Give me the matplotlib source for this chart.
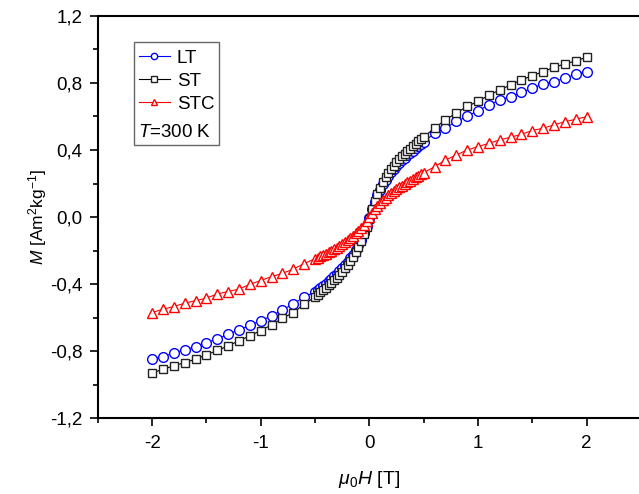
import numpy as np
import matplotlib
matplotlib.use("Agg")
import matplotlib.pyplot as plt
from matplotlib.patches import Rectangle

plt.rcParams['font.family'] = ['Liberation Sans', 'DejaVu Sans']
plt.rcParams['mathtext.fontset'] = 'custom'
plt.rcParams['mathtext.rm'] = 'Liberation Sans'
plt.rcParams['mathtext.it'] = 'Liberation Sans:italic'

# field grid: coarse outside +-0.5 T, dense inside
h_neg = [-2.0, -1.9, -1.8, -1.7, -1.6, -1.5, -1.4, -1.3, -1.2, -1.1, -1.0, -0.9, -0.8, -0.7, -0.6]
h_mid = [-0.5, -0.475, -0.45, -0.425, -0.4, -0.375, -0.35, -0.325, -0.3, -0.275,
         -0.25, -0.225, -0.2, -0.175, -0.15, -0.125, -0.1, -0.075, -0.05, -0.025,
         0.0, 0.025, 0.05, 0.075, 0.1, 0.125, 0.15, 0.175, 0.2, 0.225,
         0.25, 0.275, 0.3, 0.325, 0.35, 0.375, 0.4, 0.425, 0.45, 0.475, 0.5]
h_pos = [0.6, 0.7, 0.8, 0.9, 1.0, 1.1, 1.2, 1.3, 1.4, 1.5, 1.6, 1.7, 1.8, 1.9, 2.0]

lt_neg = [-0.847, -0.831, -0.811, -0.791, -0.772, -0.748, -0.727, -0.698, -0.672, -0.645,
          -0.617, -0.589, -0.553, -0.517, -0.477]
lt_mid = [-0.445, -0.433, -0.421, -0.409, -0.396, -0.382, -0.368, -0.353, -0.338, -0.322,
          -0.305, -0.287, -0.267, -0.246, -0.223, -0.197, -0.167, -0.134, -0.096, -0.054,
          -0.008, 0.046, 0.09, 0.13, 0.164, 0.195, 0.222, 0.246, 0.267, 0.287,
          0.305, 0.323, 0.339, 0.354, 0.369, 0.383, 0.397, 0.41, 0.423, 0.436, 0.448]
lt_pos = [0.50, 0.53, 0.57, 0.60, 0.635, 0.668, 0.698, 0.718, 0.744, 0.768,
          0.794, 0.808, 0.828, 0.852, 0.867]

st_neg = [-0.93, -0.906, -0.887, -0.867, -0.847, -0.821, -0.795, -0.768, -0.737, -0.708,
          -0.676, -0.642, -0.603, -0.569, -0.52]
st_mid = [-0.475, -0.462, -0.449, -0.436, -0.422, -0.407, -0.392, -0.376, -0.36, -0.343,
          -0.325, -0.305, -0.284, -0.262, -0.238, -0.21, -0.178, -0.143, -0.103, -0.058,
          -0.01, 0.05, 0.097, 0.14, 0.176, 0.208, 0.237, 0.262, 0.285, 0.306,
          0.326, 0.345, 0.362, 0.378, 0.394, 0.409, 0.424, 0.438, 0.452, 0.465, 0.478]
st_pos = [0.53, 0.58, 0.62, 0.66, 0.69, 0.727, 0.758, 0.788, 0.818, 0.843,
          0.867, 0.893, 0.913, 0.931, 0.953]

stc_neg = [-0.569, -0.549, -0.533, -0.513, -0.498, -0.483, -0.458, -0.444, -0.429, -0.401,
           -0.378, -0.355, -0.335, -0.31, -0.277]
stc_mid = [-0.248, -0.241, -0.234, -0.226, -0.218, -0.21, -0.201, -0.192, -0.182, -0.172,
           -0.161, -0.15, -0.138, -0.125, -0.111, -0.097, -0.081, -0.064, -0.045, -0.024,
           0.0, 0.026, 0.047, 0.066, 0.084, 0.1, 0.115, 0.129, 0.142, 0.154,
           0.166, 0.177, 0.188, 0.198, 0.208, 0.218, 0.228, 0.237, 0.246, 0.255, 0.265]
stc_pos = [0.30, 0.34, 0.37, 0.40, 0.42, 0.44, 0.46, 0.476, 0.494, 0.516,
           0.53, 0.55, 0.569, 0.583, 0.599]

x_ticks = [-2, -1, 0, 1, 2]
x_ticklabels = ['-2', '-1', '0', '1', '2']
y_ticks = [-1.2, -0.8, -0.4, 0.0, 0.4, 0.8, 1.2]
y_ticklabels = ['-1,2', '-0,8', '-0,4', '0,0', '0,4', '0,8', '1,2']

h = h_neg + h_mid + h_pos

fig = plt.figure(figsize=(6.39, 4.94), dpi=100)
ax = fig.add_axes([0.153, 0.153, 0.850, 0.815])

ax.plot(h, lt_neg + lt_mid + lt_pos, color='#0000ff', lw=0.8, marker='o', ms=7,
        mfc='white', mec='#0000ff', mew=1.0, label='LT')
ax.plot(h, st_neg + st_mid + st_pos, color='black', lw=0.8, marker='s', ms=6,
        mfc='white', mec='#222222', mew=1.0, label='ST')
ax.plot(h, stc_neg + stc_mid + stc_pos, color='#ff0000', lw=0.8, marker='^', ms=7,
        mfc='white', mec='#ff0000', mew=1.0, label='STC')

ax.set_xlim(-2.5, 2.5)
ax.set_ylim(-1.2, 1.2)
ax.set_xticks(x_ticks)
ax.set_xticklabels(x_ticklabels)
ax.set_yticks(y_ticks)
ax.set_yticklabels(y_ticklabels)
ax.set_xticks(np.arange(-2.5, 2.51, 0.5), minor=True)
ax.set_yticks(np.arange(-1.2, 1.21, 0.2), minor=True)
ax.tick_params(which='major', direction='out', length=6, width=1.2, labelsize=13.5)
ax.tick_params(axis='x', which='major', pad=6)
ax.tick_params(axis='y', which='major', pad=5)
ax.tick_params(which='minor', direction='out', length=3.5, width=1.2)
ax.tick_params(top=False, right=False)
for s in ['left', 'bottom', 'top']:
    ax.spines[s].set_linewidth(1.5)
ax.spines['right'].set_visible(False)

ax.set_xlabel(r'$\mu_{\rm 0}H$ [T]', fontsize=14, labelpad=12)
ax.set_ylabel(r'$M$ [Am$^{2}$kg$^{-1}$]', fontsize=12.5, labelpad=0.5)

# legend with the temperature note inside one frame
leg = ax.legend(loc='upper left', bbox_to_anchor=(139 / 639, 1 - 49.5 / 494),
                bbox_transform=fig.transFigure, frameon=False, fontsize=13.5,
                handlelength=1.65, handletextpad=0.36, labelspacing=0.32, borderpad=0,
                borderaxespad=0, markerscale=0.65)
fig.text(137.5 / 639, 1 - 132.7 / 494, r'$T$=300 K', fontsize=13.5, va='center', ha='left')
fig.patches.append(Rectangle((134.3 / 639, 1 - 145 / 494), 85 / 639, 102.7 / 494,
                             transform=fig.transFigure, fill=False, ec='#666666', lw=1.0))

fig.savefig('out.png', dpi=100)
